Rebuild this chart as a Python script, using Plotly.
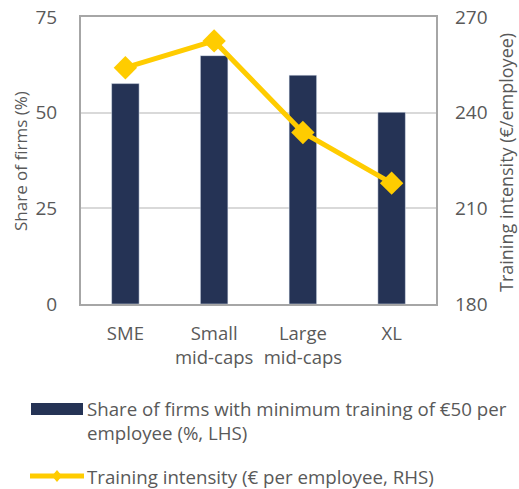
import plotly.graph_objects as go

categories = ["SME", "Small<br>mid-caps", "Large<br>mid-caps", "XL"]
share_firms = [57.6, 64.9, 59.8, 50.1]
training_intensity = [254.1, 262.5, 233.8, 217.9]
left_ticks = [0, 25, 50, 75]
right_ticks = [180, 210, 240, 270]

FONT = "Open Sans"
GREY = "#595959"
NAVY = "#253355"
YELLOW = "#FFCC00"

fig = go.Figure()
fig.add_trace(go.Bar(x=categories, y=share_firms, marker_color=NAVY, width=0.31,
                     name="Share of firms", showlegend=False))
fig.add_trace(go.Scatter(x=categories, y=training_intensity, yaxis="y2", mode="lines+markers",
                         line=dict(color=YELLOW, width=5),
                         marker=dict(symbol="diamond", size=18, color=YELLOW),
                         name="Training intensity", showlegend=False))

fig.update_layout(
    width=519, height=489,
    margin=dict(l=81, r=83, t=17, b=185, autoexpand=False),
    paper_bgcolor="white", plot_bgcolor="white",
    font=dict(family=FONT, color=GREY, size=15),
    xaxis=dict(showline=True, linecolor="#a6a6a6", linewidth=2, mirror=True, automargin=False,
               ticks="", tickfont=dict(size=18.5, color=GREY), range=[-0.5, 3.5],
               ticklabelstandoff=12),
    yaxis=dict(range=[0, 75], tickvals=left_ticks, showgrid=True, gridcolor="#d9d9d9", gridwidth=2,
               showline=True, linecolor="#a6a6a6", linewidth=2, mirror=True, zeroline=False,
               automargin=False,
               tickfont=dict(size=19, color=GREY), ticks="", ticklabelstandoff=18),
    yaxis2=dict(range=[180, 270], tickvals=right_ticks, overlaying="y", side="right",
                showgrid=False, zeroline=False, showline=False, automargin=False,
                tickfont=dict(size=19, color=GREY), ticks="", ticklabelstandoff=18),
)

def px_x(x):
    return (x - 81) / 355

def px_y(y):
    return (304 - y) / 287

# axis titles
fig.add_annotation(xref="paper", yref="paper", x=px_x(20), y=px_y(161), text="Share of firms (%)",
                   textangle=-90, showarrow=False, xanchor="center", yanchor="middle",
                   font=dict(size=17, color=GREY, family=FONT))
fig.add_annotation(xref="paper", yref="paper", x=px_x(506), y=px_y(163), text="Training intensity (€/employee)",
                   textangle=-90, showarrow=False, xanchor="center", yanchor="middle",
                   font=dict(size=18, color=GREY, family=FONT))

# manual legend
fig.add_shape(type="rect", xref="paper", yref="paper", x0=px_x(31), x1=px_x(83), y0=px_y(403),
              y1=px_y(415), fillcolor=NAVY, line_width=0)
fig.add_annotation(xref="paper", yref="paper", x=px_x(85), y=px_y(394), xanchor="left", yanchor="top",
                   text="Share of firms with minimum training of €50 per<br>employee (%, LHS)",
                   showarrow=False, align="left", font=dict(size=18.7, color=GREY, family=FONT))
fig.add_shape(type="line", xref="paper", yref="paper", x0=px_x(30), x1=px_x(84),
              y0=px_y(476), y1=px_y(476), line=dict(color=YELLOW, width=5))
cx, cy = 57, 476
fig.add_shape(type="path", xref="paper", yref="paper",
              path=f"M {px_x(cx-5)} {px_y(cy)} L {px_x(cx)} {px_y(cy-6)} L {px_x(cx+5)} {px_y(cy)} "
                   f"L {px_x(cx)} {px_y(cy+6)} Z",
              fillcolor=YELLOW, line_width=0)
fig.add_annotation(xref="paper", yref="paper", x=px_x(85), y=px_y(476), xanchor="left", yanchor="middle",
                   text="Training intensity (€ per employee, RHS)",
                   showarrow=False, align="left", font=dict(size=18.7, color=GREY, family=FONT))

fig.write_html("out.html", config={"displayModeBar": False},
               post_script="document.body.style.margin='0';document.body.style.overflow='hidden';")
